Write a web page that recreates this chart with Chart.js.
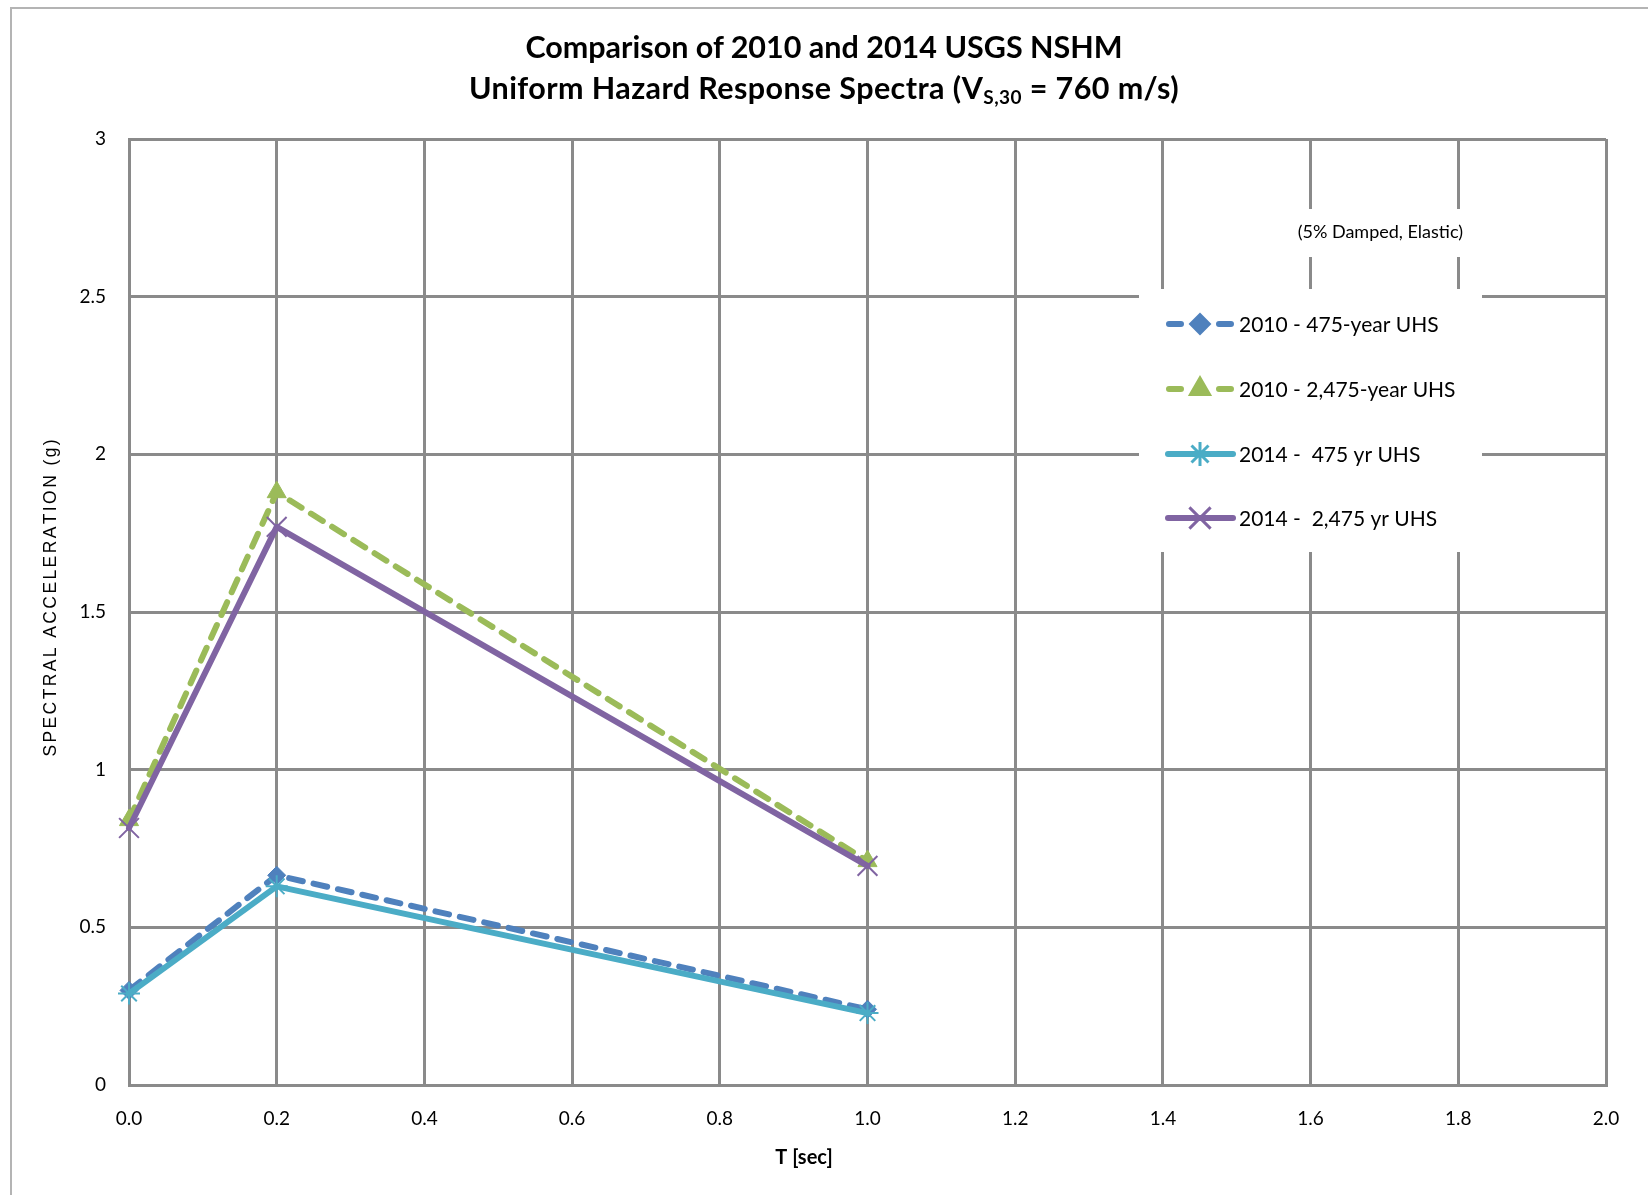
<!DOCTYPE html>
<html>
<head>
<meta charset="utf-8">
<script src="https://cdn.jsdelivr.net/npm/chart.js@4.4.1/dist/chart.umd.min.js"></script>
<style>
  html, body { margin: 0; padding: 0; background: #ffffff; }
  #wrap { position: relative; width: 1648px; height: 1195px; }
  #c { position: absolute; left: 0; top: 0; }
  #title {
    position: absolute; left: 0; top: 26px; width: 1648px; text-align: center;
    font-family: Lato, "Open Sans", sans-serif; font-weight: bold; font-size: 30.5px;
    line-height: 41px; color: #000; pointer-events: none;
  }
  #title .l2 { letter-spacing: 0.4px; }
  #title sub { font-size: 19px; vertical-align: -5px; line-height: 0; }
</style>
</head>
<body>
<div id="wrap">
  <canvas id="c" width="1648" height="1195"></canvas>
  <div id="title">Comparison of 2010 and 2014 USGS NSHM<br><span class="l2">Uniform Hazard Response Spectra (V<sub>S,30</sub> = 760 m/s)</span></div>
</div>
<script>
// ---- data ----
const periods = [0.0, 0.2, 1.0];
const uhs2010_475 = [0.30, 0.665, 0.24];
const uhs2010_2475 = [0.84, 1.88, 0.71];
const uhs2014_475 = [0.29, 0.63, 0.228];
const uhs2014_2475 = [0.815, 1.77, 0.695];
const seriesNames = ['2010 - 475-year UHS', '2010 - 2,475-year UHS', '2014 -  475 yr UHS', '2014 -  2,475 yr UHS'];
const xTickLabels = ['0.0', '0.2', '0.4', '0.6', '0.8', '1.0', '1.2', '1.4', '1.6', '1.8', '2.0'];
const yTickLabels = ['0', '0.5', '1', '1.5', '2', '2.5', '3'];
const xAxisTitle = 'T [sec]';
const yAxisTitle = 'SPECTRAL ACCELERATION (g)';
const noteText = '(5% Damped, Elastic)';

const GRID = '#8a8a8a';
const colors = ['#4f81bd', '#9bbb59', '#4bacc6', '#8064a2'];

function pts(arr) { return periods.map((x, i) => ({ x: x, y: arr[i] })); }

const styles = [
  { dash: [14, 11], width: 6, point: 'rectRot', radius: 9, pbw: 1, order: 4 },
  { dash: [14, 11], width: 6, point: 'triangle', radius: 11, pbw: 1, order: 3 },
  { dash: [], width: 6, point: 'star', radius: 11, pbw: 2, order: 2 },
  { dash: [], width: 6, point: 'crossRot', radius: 14, pbw: 2, order: 1 }
];
const allSeries = [uhs2010_475, uhs2010_2475, uhs2014_475, uhs2014_2475];

const datasets = allSeries.map((s, i) => ({
  label: seriesNames[i],
  data: pts(s),
  borderColor: colors[i],
  backgroundColor: colors[i],
  borderWidth: styles[i].width,
  borderDash: styles[i].dash,
  borderCapStyle: 'round',
  borderJoinStyle: 'round',
  pointStyle: styles[i].point,
  pointRadius: styles[i].radius,
  pointHoverRadius: styles[i].radius,
  pointBorderWidth: styles[i].pbw,
  pointBackgroundColor: colors[i],
  pointBorderColor: colors[i],
  tension: 0,
  fill: false,
  clip: false,
  order: styles[i].order
}));

function drawMarker(ctx, style, x, y, r, color, bw) {
  ctx.save();
  ctx.fillStyle = color; ctx.strokeStyle = color; ctx.lineWidth = bw;
  ctx.setLineDash([]);
  ctx.beginPath();
  if (style === 'rectRot') {
    ctx.moveTo(x - r, y); ctx.lineTo(x, y - r); ctx.lineTo(x + r, y); ctx.lineTo(x, y + r); ctx.closePath();
    ctx.fill(); ctx.stroke();
  } else if (style === 'triangle') {
    ctx.moveTo(x, y - r); ctx.lineTo(x + r * 0.866, y + r * 0.5); ctx.lineTo(x - r * 0.866, y + r * 0.5); ctx.closePath();
    ctx.fill(); ctx.stroke();
  } else {
    const d = r * Math.SQRT1_2;
    ctx.moveTo(x - d, y - d); ctx.lineTo(x + d, y + d);
    ctx.moveTo(x + d, y - d); ctx.lineTo(x - d, y + d);
    if (style === 'star') {
      ctx.moveTo(x, y - r); ctx.lineTo(x, y + r);
      ctx.moveTo(x - r, y); ctx.lineTo(x + r, y);
    }
    ctx.stroke();
  }
  ctx.restore();
}

function spacedText(ctx, text, cx, cy, spacing) {
  const widths = Array.from(text).map(ch => ctx.measureText(ch).width);
  const total = widths.reduce((a, b) => a + b, 0) + spacing * (widths.length - 1);
  let x = cx - total / 2;
  ctx.textAlign = 'left';
  Array.from(text).forEach((ch, i) => {
    ctx.fillText(ch, x, cy);
    x += widths[i] + spacing;
  });
}

const framePlugin = {
  id: 'frame',
  beforeDraw(chart) {
    const ctx = chart.ctx;
    ctx.save();
    ctx.fillStyle = '#ffffff';
    ctx.fillRect(0, 0, chart.width, chart.height);
    ctx.strokeStyle = '#b4b4b4';
    ctx.lineWidth = 2;
    ctx.strokeRect(11, 8, 1660, 1220);
    ctx.restore();
  },
  beforeDatasetsDraw(chart) {
    const ctx = chart.ctx;
    ctx.save();
    // legend box
    ctx.fillStyle = '#ffffff';
    ctx.fillRect(1139, 289, 343, 263);
    // note box
    ctx.fillRect(1288, 209, 182, 48);
    ctx.fillStyle = '#000000';
    ctx.font = '18px Lato, "Open Sans", sans-serif';
    ctx.textAlign = 'right';
    ctx.textBaseline = 'middle';
    ctx.fillText(noteText, 1463, 232);
    // legend entries
    const rows = [324, 389, 454, 518];
    ctx.font = '21px Lato, "Open Sans", sans-serif';
    ctx.textAlign = 'left';
    datasets.forEach((ds, i) => {
      const y = rows[i];
      ctx.save();
      ctx.strokeStyle = ds.borderColor;
      ctx.lineWidth = ds.borderWidth;
      ctx.lineCap = 'round';
      ctx.beginPath();
      if (ds.borderDash.length) {
        ctx.moveTo(1169, y); ctx.lineTo(1181, y);
        ctx.moveTo(1219, y); ctx.lineTo(1231, y);
      } else {
        ctx.moveTo(1168, y); ctx.lineTo(1233, y);
      }
      ctx.stroke();
      ctx.restore();
      drawMarker(ctx, ds.pointStyle, 1200, y, ds.pointRadius + 1, ds.borderColor, ds.pointBorderWidth + 1);
      ctx.fillStyle = '#000000';
      ctx.fillText(ds.label, 1239, y + 1);
    });
    ctx.restore();
  },
  afterDraw(chart) {
    const ctx = chart.ctx;
    ctx.save();
    ctx.fillStyle = '#000000';
    ctx.font = 'bold 20px Lato, "Open Sans", sans-serif';
    ctx.textAlign = 'center';
    ctx.textBaseline = 'middle';
    ctx.fillText(xAxisTitle, 804, 1158);
    // y axis title (spaced, rotated)
    ctx.translate(51, 598);
    ctx.rotate(-Math.PI / 2);
    ctx.font = '17.5px "Liberation Sans", Arial, sans-serif';
    spacedText(ctx, yAxisTitle, 0, 0, 2.4);
    ctx.restore();
  }
};

new Chart(document.getElementById('c'), {
  type: 'line',
  data: { datasets: datasets },
  plugins: [framePlugin],
  options: {
    responsive: false,
    animation: false,
    devicePixelRatio: 1,
    layout: { padding: { left: 0, top: 139, right: 42, bottom: 0 } },
    plugins: {
      legend: { display: false },
      title: { display: false },
      tooltip: { enabled: false }
    },
    scales: {
      x: {
        type: 'linear',
        min: 0, max: 2,
        afterFit(scale) { scale.height = 110; },
        ticks: {
          stepSize: 0.2,
          padding: 22,
          color: '#000000',
          font: { family: 'Lato, "Open Sans", sans-serif', size: 19 },
          maxRotation: 0,
          callback: (v, i) => xTickLabels[Math.round(v / 0.2)]
        },
        grid: { color: GRID, lineWidth: 3, drawTicks: false },
        border: { color: GRID, width: 3 },
        title: { display: false }
      },
      y: {
        type: 'linear',
        min: 0, max: 3,
        afterFit(scale) { scale.width = 129; },
        ticks: {
          stepSize: 0.5,
          padding: 23,
          color: '#000000',
          font: { family: 'Lato, "Open Sans", sans-serif', size: 19 },
          callback: (v, i) => yTickLabels[Math.round(v / 0.5)]
        },
        grid: { color: GRID, lineWidth: 3, drawTicks: false },
        border: { color: GRID, width: 3 },
        title: { display: false }
      }
    }
  }
});
</script>
</body>
</html>
